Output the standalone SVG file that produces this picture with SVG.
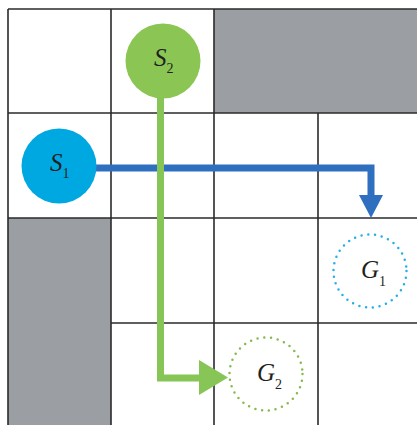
<svg xmlns="http://www.w3.org/2000/svg" width="417" height="425" viewBox="0 0 417 425">
<style>
.grid{stroke:#2b2b2b;stroke-width:1.6;fill:none}
.wall{fill:#9b9ea2}
.lbl{font-family:"Liberation Serif",serif;font-style:italic;font-size:25px;fill:#231f20}
.sub{font-style:normal;font-size:14px}
.blue{stroke:#2f6fbf;stroke-width:7;fill:none}
.green{stroke:#86c556;stroke-width:7;fill:none}
.dot{fill:none;stroke-width:2.5;stroke-dasharray:0 6.8;stroke-linecap:round}
</style>
<rect width="417" height="425" fill="#ffffff"/>
<g id="walls">
<rect class="wall" x="214" y="9" width="203" height="104"/>
<rect class="wall" x="8" y="218" width="103" height="207"/>
</g>
<g id="grid">
<path class="grid" d="M8,9H417M8,113H417M8,218H417M111,323H417M8,9V425M111,9V425M214,9V425M318,113V425"/>
</g>
<g id="connectors">
<polyline class="blue" points="92,168 371,168 371,197"/>
<polygon fill="#2f6fbf" points="359,195 383,195 371,218"/>
<polyline class="green" points="160.5,95 160.5,378 200,378"/>
<polygon fill="#86c556" points="199,360 228,377.5 199,395"/>
</g>
<g id="S2">
<circle cx="163" cy="61" r="37.5" fill="#8bc553"/>
<text class="lbl" x="154" y="66">S<tspan class="sub" dy="7">2</tspan></text>
</g>
<g id="S1">
<circle cx="59" cy="166" r="37.5" fill="#00a8e1"/>
<text class="lbl" x="50" y="171">S<tspan class="sub" dy="7">1</tspan></text>
</g>
<g id="G1">
<circle class="dot" cx="370" cy="271" r="36.5" stroke="#23b0ea"/>
<text class="lbl" x="361" y="278">G<tspan class="sub" dy="8">1</tspan></text>
</g>
<g id="G2">
<circle class="dot" cx="266" cy="374" r="36.5" stroke="#86b94e"/>
<text class="lbl" x="257" y="381">G<tspan class="sub" dy="8">2</tspan></text>
</g>
</svg>
